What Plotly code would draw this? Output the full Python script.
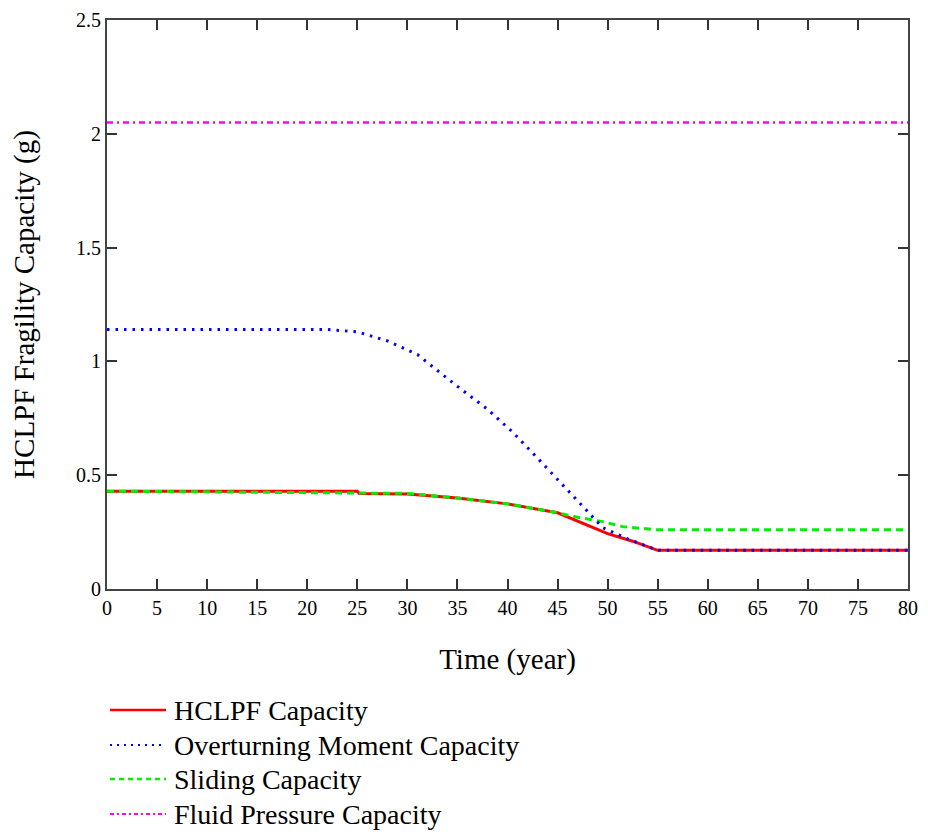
import plotly.graph_objects as go

# Data
hclpf_t = [0, 25, 25.2, 30, 35, 40, 45, 47.5, 50, 52.5, 55, 80]
hclpf_v = [0.43, 0.43, 0.42, 0.417, 0.40, 0.374, 0.335, 0.29, 0.243, 0.21, 0.17, 0.17]

overturn_t = [0, 22, 25, 28, 31, 35, 38, 40.5, 43, 45.5, 47.8, 49.5, 52, 55, 80]
overturn_v = [1.14, 1.14, 1.13, 1.09, 1.03, 0.89, 0.79, 0.69, 0.575, 0.46, 0.35, 0.27, 0.22, 0.17, 0.17]

sliding_t = [0, 30, 35, 40, 45, 47, 49.5, 51.5, 55, 80]
sliding_v = [0.43, 0.42, 0.40, 0.374, 0.335, 0.315, 0.296, 0.274, 0.26, 0.26]

fluid_t = [0, 80]
fluid_v = [2.05, 2.05]

x_ticks = list(range(0, 81, 5))
y_ticks = [0, 0.5, 1, 1.5, 2, 2.5]
y_tick_text = ["0", "0.5", "1", "1.5", "2", "2.5"]

legend_names = ["HCLPF Capacity", "Overturning Moment Capacity", "Sliding Capacity", "Fluid Pressure Capacity"]

FONT = "Liberation Serif, Times New Roman, serif"

# Figure geometry (page body has an 8px margin)
W, H = 920, 827
ML, MR, MT, MB = 99, 20, 12, 246
PW = W - ML - MR
PH = H - MT - MB
OFF = 8


def px_to_paper_x(xw):
    return (xw - OFF - ML) / PW


def px_to_paper_y(yw):
    return (H - MB - (yw - OFF)) / PH


fig = go.Figure()
fig.add_trace(go.Scatter(x=fluid_t, y=fluid_v, mode="lines", name=legend_names[3],
                         line=dict(color="#ff00ff", width=2.5, dash="6px,4px,2px,4px"), showlegend=False))
fig.add_trace(go.Scatter(x=hclpf_t, y=hclpf_v, mode="lines", name=legend_names[0],
                         line=dict(color="#ff0000", width=3), showlegend=False))
fig.add_trace(go.Scatter(x=sliding_t, y=sliding_v, mode="lines", name=legend_names[2],
                         line=dict(color="#00ee00", width=3, dash="7px,5px"), showlegend=False))
fig.add_trace(go.Scatter(x=overturn_t, y=overturn_v, mode="lines", name=legend_names[1],
                         line=dict(color="#0000ff", width=3, dash="2.5px,6px"), showlegend=False))

# Manual legend (below the plot), matching the reference spacing
legend_styles = [
    dict(color="#ff0000", width=2.5),
    dict(color="#0000ff", width=2, dash="2px,5px"),
    dict(color="#00ee00", width=2.5, dash="5px,4px"),
    dict(color="#ff00ff", width=2, dash="4px,3px,2px,3px"),
]
legend_y_px = [710, 745, 779, 814]
shapes = []
annotations = []
for name, st, yw in zip(legend_names, legend_styles, legend_y_px):
    yp = px_to_paper_y(yw)
    shapes.append(dict(type="line", xref="paper", yref="paper",
                       x0=px_to_paper_x(110), x1=px_to_paper_x(166), y0=yp, y1=yp,
                       line=st))
    annotations.append(dict(xref="paper", yref="paper", x=px_to_paper_x(172), y=yp,
                            text=name, showarrow=False, xanchor="left", yanchor="middle",
                            font=dict(family=FONT, size=28, color="black")))

fig.update_layout(
    width=W, height=H,
    margin=dict(l=ML, r=MR, t=MT, b=MB, autoexpand=False),
    plot_bgcolor="white", paper_bgcolor="white",
    font=dict(family=FONT, size=20, color="black"),
    showlegend=False,
    shapes=shapes,
    annotations=annotations,
)
fig.update_xaxes(
    range=[0, 80], tickvals=x_ticks, ticktext=[str(v) for v in x_ticks],
    ticks="inside", ticklen=10, tickwidth=2, tickcolor="#333",
    showline=True, linecolor="#444", linewidth=2, mirror="ticks",
    showgrid=False, zeroline=False, automargin=False, ticklabeloverflow="allow",
    tickfont=dict(family=FONT, size=20, color="black"),
    title=dict(text="Time (year)", font=dict(family=FONT, size=29, color="black"), standoff=31),
)
fig.update_yaxes(
    range=[0, 2.5], tickvals=y_ticks, ticktext=y_tick_text,
    ticks="inside", ticklen=10, tickwidth=2, tickcolor="#333",
    showline=True, linecolor="#444", linewidth=2, mirror="ticks",
    showgrid=False, zeroline=False, automargin=False, ticklabeloverflow="allow",
    tickfont=dict(family=FONT, size=20, color="black"),
    title=dict(text="HCLPF Fragility Capacity (g)", font=dict(family=FONT, size=29, color="black"), standoff=39),
)

fig.write_html("out.html")
